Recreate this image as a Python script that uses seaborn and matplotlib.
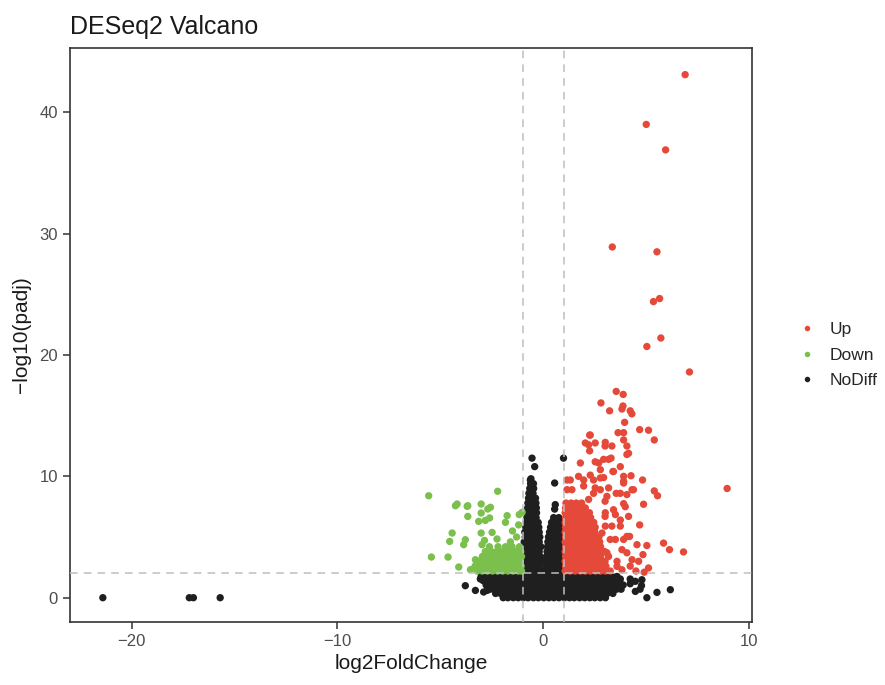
# DESeq2 volcano plot
import matplotlib
matplotlib.use("Agg")
import matplotlib.pyplot as plt
import pandas as pd
import seaborn as sns

# --- data ---------------------------------------------------------------
# isolated points (log2FoldChange, -log10(padj))
up_points = [
    (6.89, 43.1), (5.0, 39.0), (5.94, 36.9), (3.35, 28.9), (5.52, 28.5),
    (5.35, 24.4), (5.65, 24.65), (5.71, 21.4), (5.03, 20.7), (7.10, 18.6),
    (8.93, 9.0), (3.54, 17.0), (3.88, 16.75), (2.80, 16.05), (3.22, 15.4),
    (3.87, 15.8), (3.82, 15.55), (4.22, 15.4), (4.30, 15.15), (3.95, 14.45),
    (4.68, 13.85), (5.11, 13.8), (5.39, 13.0), (3.63, 13.6), (3.90, 13.6),
    (3.90, 13.0), (2.25, 13.4), (2.52, 12.75), (2.25, 12.1), (3.01, 12.8),
    (3.33, 12.5), (4.14, 11.9), (3.29, 11.5), (2.93, 11.4), (2.52, 11.2),
    (3.74, 10.8), (2.77, 10.55), (3.38, 10.4), (3.90, 10.0), (4.26, 10.05),
    (4.82, 9.7), (2.93, 9.9), (2.44, 9.7), (1.96, 9.7), (5.39, 8.8),
    (5.55, 8.4), (3.9, 9.45), (4.38, 8.9), (3.54, 8.6), (4.06, 8.5),
    (4.87, 7.7), (3.9, 7.75), (4.14, 6.7), (3.50, 6.85), (4.68, 6.0),
    (3.74, 5.9), (4.19, 5.05), (3.90, 4.8), (5.84, 4.5), (6.13, 3.96),
    (6.81, 3.77), (4.55, 4.37), (5.03, 4.3), (4.06, 3.7), (4.84, 3.55),
    (4.63, 3.0), (5.11, 2.45), (4.22, 2.6), (3.58, 3.0), (3.82, 2.3),
    (3.09, 3.7), (3.25, 4.8), (3.01, 5.9), (3.01, 7.0), (3.09, 8.35),
    (2.77, 8.9), (2.44, 8.6), (2.04, 12.75), (3.0, 12.5), (4.06, 12.5),
    (1.8, 11.1), (2.69, 11.1), (3.17, 11.4), (4.06, 11.8), (1.15, 9.7),
    (1.71, 10.0), (2.28, 10.1), (2.77, 9.87), (3.41, 10.4), (3.9, 9.6),
    (1.39, 8.9), (1.96, 9.2), (2.52, 9.05), (3.17, 9.05), (3.74, 8.6),
    (4.31, 8.9), (2.2, 8.1), (3.0, 7.95), (3.41, 7.25), (3.98, 7.5),
    (3.33, 5.9), (3.74, 6.4), (3.5, 4.8), (3.82, 3.96), (4.06, 5.05),
    (4.31, 3.13), (3.58, 2.58), (3.17, 3.4), (2.85, 5.33), (3.0, 6.7),
    (2.28, 13.4), (2.2, 12.6), (1.31, 9.7), (1.15, 8.9), (4.5, 2.2),
    (4.9, 2.1),
]

down_points = [
    (-5.57, 8.4), (-2.22, 8.77), (-4.19, 7.72), (-3.67, 7.58), (-3.02, 7.72),
    (-2.57, 7.45), (-2.70, 7.31), (-3.67, 6.7), (-3.02, 6.98), (-3.14, 6.29),
    (-2.82, 6.37), (-2.61, 6.57), (-1.76, 6.76), (-1.84, 6.21), (-1.03, 7.04),
    (-1.17, 6.85), (-4.43, 5.33), (-4.55, 4.64), (-3.79, 4.78), (-3.87, 4.37),
    (-3.02, 5.33), (-2.86, 4.72), (-2.98, 4.37), (-2.49, 5.38), (-2.25, 4.84),
    (-5.44, 3.35), (-4.63, 3.35), (-4.11, 2.53), (-3.54, 2.31), (-3.30, 3.13),
    (-4.27, 7.58), (-3.7, 7.53), (-1.5, 5.5), (-1.3, 5.0), (-1.6, 4.6),
    (-1.2, 6.0),
]

nodiff_points = [
    (-21.4, 0.0), (-17.2, 0.0), (-17.0, 0.0), (-15.7, 0.0),
    (-3.79, 0.99), (-3.3, 0.6), (-2.9, 0.47), (-3.06, 1.54), (-2.73, 0.6),
    (3.74, 1.54), (4.22, 1.15), (4.22, 1.54), (4.47, 0.52), (4.47, 1.35),
    (4.79, 1.48), (4.77, 1.0), (4.7, 0.7), (5.03, 0.0), (5.52, 0.44),
    (6.17, 0.66), (-0.55, 11.5), (-0.42, 10.8), (-0.63, 9.7), (0.55, 9.45),
    (0.58, 7.67), (0.55, 7.3), (0.98, 11.5),
]

# densely packed areas, read as rows: (-log10(padj), [log2FoldChange, ...])
nodiff_base_rows = [
    (0.0, [-1.95, -1.72, -1.46, -1.22, -0.97, -0.74, -0.48, -0.24, 0.02, 0.27,
           0.51, 0.76, 1.02, 1.27, 1.5, 1.76, 2.01, 2.26, 2.5, 2.76, 3.02]),
    (0.35, [-2.32, -2.08, -1.83, -1.58, -1.34, -1.1, -0.85, -0.6, -0.36, -0.12,
            0.13, 0.38, 0.62, 0.87, 1.12, 1.36, 1.61, 1.86, 2.1, 2.35, 2.6,
            2.84, 3.1, 3.38]),
    (0.7, [-2.58, -2.34, -2.1, -1.85, -1.6, -1.36, -1.12, -0.87, -0.62, -0.38,
           -0.14, 0.1, 0.35, 0.6, 0.84, 1.08, 1.33, 1.58, 1.82, 2.07, 2.32,
           2.56, 2.8, 3.06, 3.3, 3.56, 3.78]),
    (1.05, [-2.78, -2.53, -2.28, -2.04, -1.8, -1.55, -1.3, -1.06, -0.82, -0.57,
            -0.32, -0.08, 0.16, 0.41, 0.66, 0.9, 1.15, 1.4, 1.64, 1.88, 2.13,
            2.38, 2.62, 2.87, 3.12, 3.36, 3.6, 3.88]),
    (1.4, [-2.92, -2.68, -2.44, -2.2, -1.95, -1.7, -1.46, -1.22, -0.97, -0.73,
           -0.48, -0.24, 0.0, 0.25, 0.5, 0.74, 0.98, 1.23, 1.48, 1.72, 1.96,
           2.21, 2.46, 2.7, 2.94, 3.19, 3.44, 3.7]),
    (1.75, [-3.02, -2.78, -2.54, -2.29, -2.04, -1.8, -1.56, -1.31, -1.06, -0.82,
            -0.58, -0.33, -0.09, 0.16, 0.4, 0.65, 0.9, 1.14, 1.38, 1.63, 1.88,
            2.12, 2.36, 2.61, 2.86, 3.1, 3.34, 3.58]),
]

nodiff_column_rows = [
    (2.2, [-0.95, -0.7, -0.45, -0.2, -0.05, 0.12, 0.35, 0.58, 0.8, 0.95]),
    (2.6, [-0.92, -0.68, -0.42, -0.18, 0.15, 0.38, 0.6, 0.82]),
    (3.0, [-0.95, -0.7, -0.45, -0.2, -0.06, 0.13, 0.36, 0.6, 0.84, 0.96]),
    (3.4, [-0.9, -0.66, -0.4, -0.15, 0.16, 0.4, 0.62, 0.85]),
    (3.8, [-0.94, -0.7, -0.45, -0.2, 0.18, 0.4, 0.64, 0.88]),
    (4.2, [-0.9, -0.65, -0.42, -0.12, 0.2, 0.42, 0.66, 0.9]),
    (4.6, [-0.93, -0.68, -0.44, -0.2, 0.22, 0.45, 0.68, 0.88]),
    (5.0, [-0.88, -0.64, -0.4, -0.17, 0.25, 0.48, 0.7, 0.9]),
    (5.4, [-0.9, -0.66, -0.42, -0.2, 0.3, 0.52, 0.74, 0.92]),
    (5.8, [-0.85, -0.62, -0.38, -0.22, 0.35, 0.58, 0.8]),
    (6.2, [-0.82, -0.6, -0.36, -0.25, 0.4, 0.62, 0.85]),
    (6.6, [-0.8, -0.58, -0.35, 0.5, 0.75]),
    (7.0, [-0.78, -0.55, -0.33]),
    (7.4, [-0.76, -0.54, -0.34]),
    (7.8, [-0.75, -0.52, -0.36]),
    (8.2, [-0.72, -0.5, -0.38]),
    (8.6, [-0.7, -0.5]),
    (9.0, [-0.66, -0.47]),
    (9.4, [-0.62, -0.48]),
    (9.8, [-0.6]),
]

up_block_rows = [
    (2.2, [1.06, 1.3, 1.55, 1.8, 2.04, 2.28, 2.53, 2.78, 3.02, 3.25]),
    (2.6, [1.08, 1.33, 1.57, 1.82, 2.06, 2.3, 2.55, 2.8, 3.04]),
    (3.0, [1.06, 1.3, 1.55, 1.79, 2.03, 2.28, 2.52, 2.77, 3.0]),
    (3.4, [1.08, 1.32, 1.57, 1.81, 2.05, 2.3, 2.54, 2.78]),
    (3.8, [1.06, 1.3, 1.54, 1.79, 2.03, 2.27, 2.52, 2.76, 2.98]),
    (4.2, [1.08, 1.33, 1.57, 1.82, 2.06, 2.3, 2.55, 2.78]),
    (4.6, [1.06, 1.3, 1.55, 1.79, 2.03, 2.28, 2.52, 2.74]),
    (5.0, [1.08, 1.32, 1.57, 1.81, 2.05, 2.3, 2.53, 2.7]),
    (5.4, [1.06, 1.3, 1.54, 1.79, 2.03, 2.27, 2.5]),
    (5.8, [1.08, 1.33, 1.57, 1.82, 2.06, 2.3, 2.52]),
    (6.2, [1.06, 1.3, 1.55, 1.79, 2.03, 2.26, 2.45]),
    (6.6, [1.08, 1.32, 1.57, 1.81, 2.05, 2.3]),
    (7.0, [1.06, 1.3, 1.54, 1.79, 2.02, 2.24]),
    (7.4, [1.08, 1.33, 1.57, 1.8, 2.04]),
    (7.8, [1.1, 1.35, 1.6, 1.86]),
]

down_block_rows = [
    (2.2, [-3.22, -2.97, -2.72, -2.47, -2.22, -1.97, -1.72, -1.47, -1.22, -1.06]),
    (2.6, [-3.32, -3.06, -2.81, -2.56, -2.31, -2.06, -1.81, -1.56, -1.31, -1.08]),
    (3.0, [-3.12, -2.87, -2.62, -2.37, -2.12, -1.87, -1.62, -1.37, -1.12]),
    (3.4, [-2.96, -2.71, -2.46, -2.21, -1.96, -1.71, -1.46, -1.21, -1.06]),
    (3.8, [-2.82, -2.52, -2.26, -1.97, -1.66, -1.37, -1.1]),
    (4.2, [-2.62, -2.2, -1.84, -1.52, -1.16]),
]

groups = ["Up", "Down", "NoDiff"]
colors = ["#E5493A", "#7BBF4C", "#1F1F1F"]


# --- build the long table ---------------------------------------------------
def rows_to_points(rows):
    return [(x, y) for y, xs in rows for x in xs]


parts = [
    ("NoDiff", nodiff_points + rows_to_points(nodiff_base_rows) + rows_to_points(nodiff_column_rows)),
    ("Down", down_points + rows_to_points(down_block_rows)),
    ("Up", up_points + rows_to_points(up_block_rows)),
]
records = []
for name, pts in parts:
    for x, y in pts:
        records.append({"log2FoldChange": x, "padj": y, "group": name})
df = pd.DataFrame(records)

# --- plot -------------------------------------------------------------------
sns.set_theme(style="white")
plt.rcParams["font.family"] = ["Liberation Sans", "DejaVu Sans"]

fig = plt.figure(figsize=(8.85, 6.85), dpi=100)
ax = fig.add_axes([0.079, 0.092, 0.771, 0.838])

sns.scatterplot(data=df, x="log2FoldChange", y="padj", hue="group",
                hue_order=groups, palette=dict(zip(groups, colors)),
                s=28, linewidth=0, alpha=1, ax=ax, zorder=2)

# thresholds
ax.axhline(2, color="#BFBFBF", lw=1.1, ls=(0, (5, 4)), zorder=3)
ax.axvline(-1, color="#BFBFBF", lw=1.1, ls=(0, (5, 4)), zorder=3)
ax.axvline(1, color="#BFBFBF", lw=1.1, ls=(0, (5, 4)), zorder=3)

ax.set_xlim(-23.0, 10.15)
ax.set_ylim(-2.0, 45.3)
ax.set_xticks([-20, -10, 0, 10])
ax.set_yticks([0, 10, 20, 30, 40])

for sp in ax.spines.values():
    sp.set_color("#333333")
    sp.set_linewidth(1.2)
ax.tick_params(axis="both", which="major", direction="out", length=5, width=1.1,
               color="#333333", labelcolor="#4D4D4D", labelsize=12,
               bottom=True, left=True)

ax.set_xlabel("log2FoldChange", fontsize=15, color="#1A1A1A", labelpad=4)
ax.set_ylabel("\u2212log10(padj)", fontsize=15, color="#1A1A1A", labelpad=6)
ax.set_title("DESeq2 Valcano", loc="left", fontsize=18, color="#1A1A1A", pad=10)

handles, labels = ax.get_legend_handles_labels()
ax.legend(handles, labels, loc="center left", bbox_to_anchor=(1.045, 0.465),
          frameon=False, fontsize=12.5, markerscale=0.75, handletextpad=0.3,
          labelspacing=0.6, borderaxespad=0)

fig.savefig("out.png", dpi=100)
